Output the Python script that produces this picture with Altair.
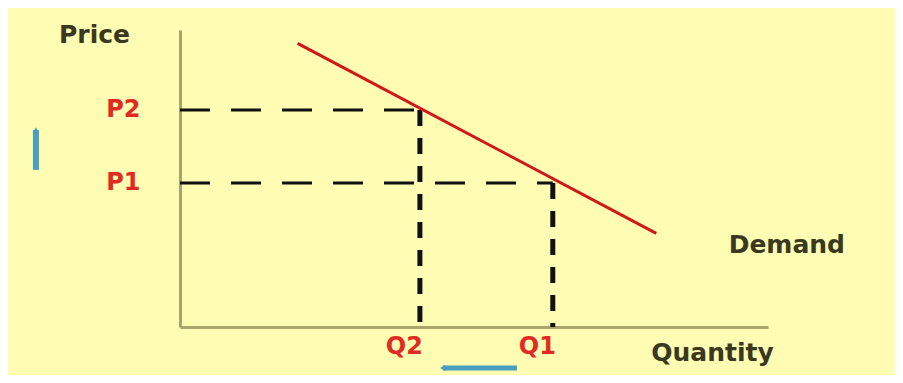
import altair as alt
import pandas as pd

# ---- data (conceptual demand diagram, units) ----
demand_q = [2.0, 8.1]
demand_p = [9.55, 3.15]

q_names = ["Q2", "Q1"]
q_values = [4.08, 6.34]
p_names = ["P2", "P1"]
p_values = [7.31, 4.85]

demand_label = ["Demand"]
demand_label_q = [10.32]
demand_label_p = [2.76]

# direction arrows (price up, quantity down)
up_arrow_q = [-2.45]
up_arrow_p = [5.29, 6.63]
left_arrow_q = [5.73, 4.47]
left_arrow_p = [-1.38]

# ---- styling ----
BG = "#FFFCB4"
AXIS = "#A8A46C"
TXT = "#3A3920"
RED_LINE = "#D01818"
RED_TXT = "#E02A22"
BLUE = "#4A9FC0"
FONT = "DejaVu Sans"

xs = alt.Scale(domain=[0, 10], nice=False, zero=False)
ys = alt.Scale(domain=[0, 10], nice=False, zero=False)


def expr_for(names, values):
    parts = " : ".join(f"datum.value == {v} ? '{n}'" for n, v in zip(names, values))
    return parts + " : ''"


x_axis = alt.Axis(
    values=q_values, labelExpr=expr_for(q_names, q_values),
    grid=False, ticks=False, domainColor=AXIS, domainWidth=3,
    labelColor=RED_TXT, labelFont=FONT, labelFontWeight="bold", labelFontSize=24,
    labelPadding=7, labelOffset=-16, labelBaseline="top",
    title="Quantity", titleFont=FONT, titleFontSize=25, titleFontWeight="bold",
    titleColor=TXT, titleX=532, titleY=25, titleAlign="center", titleBaseline="middle",
)
y_axis = alt.Axis(
    values=p_values, labelExpr=expr_for(p_names, p_values),
    grid=False, ticks=False, domainColor=AXIS, domainWidth=3,
    labelColor=RED_TXT, labelFont=FONT, labelFontWeight="bold", labelFontSize=24,
    labelPadding=40, labelBaseline="middle",
    title="Price", titleFont=FONT, titleFontSize=25, titleFontWeight="bold",
    titleColor=TXT, titleAngle=0, titleX=-86, titleY=4, titleAlign="center",
    titleBaseline="middle",
)

demand_df = pd.DataFrame({"q": demand_q, "p": demand_p})
levels_df = pd.DataFrame({"q": q_values, "p": p_values, "q0": [0, 0], "p0": [0, 0]})
label_df = pd.DataFrame({"q": demand_label_q, "p": demand_label_p, "t": demand_label})
up_df = pd.DataFrame({"q": up_arrow_q, "p": [up_arrow_p[0]], "p2": [up_arrow_p[1]]})
left_df = pd.DataFrame({"q": [left_arrow_q[0]], "q2": [left_arrow_q[1]], "p": left_arrow_p})

X = lambda f: alt.X(f"{f}:Q", scale=xs, axis=x_axis)
Y = lambda f: alt.Y(f"{f}:Q", scale=ys, axis=y_axis)

demand = alt.Chart(demand_df).mark_line(color=RED_LINE, strokeWidth=3).encode(
    x=X("q"), y=Y("p")
)

h_dash = alt.Chart(levels_df).mark_rule(
    color="#111111", strokeWidth=3, strokeDash=[30, 21]
).encode(x=X("q0"), x2="q", y=Y("p"))

v_dash = alt.Chart(levels_df).mark_rule(
    color="#111111", strokeWidth=5, strokeDash=[16, 12]
).encode(x=X("q"), y=Y("p"), y2="p0")

demand_text = alt.Chart(label_df).mark_text(
    font=FONT, fontSize=25, fontWeight="bold", color=TXT, align="center", baseline="middle"
).encode(x=X("q"), y=Y("p"), text="t:N")

up_rule = alt.Chart(up_df).mark_rule(color=BLUE, strokeWidth=6).encode(
    x=X("q"), y=Y("p"), y2="p2"
)
up_head = alt.Chart(up_df).mark_point(
    shape="triangle-up", filled=True, color=BLUE, size=45, opacity=1
).encode(x=X("q"), y=Y("p2"))

left_rule = alt.Chart(left_df).mark_rule(color=BLUE, strokeWidth=5).encode(
    x=X("q"), x2="q2", y=Y("p")
)
left_head = alt.Chart(left_df).mark_point(
    shape="triangle-left", filled=True, color=BLUE, size=40, opacity=1
).encode(x=X("q2"), y=Y("p"))

chart = (
    alt.layer(h_dash, v_dash, demand, demand_text, up_rule, up_head, left_rule, left_head)
    .properties(
        width=588, height=297,
        background=BG,
        padding={"left": 172, "top": 22, "right": 127, "bottom": 48},
        autosize=alt.AutoSizeParams(type="none"),
    )
    .configure_view(strokeWidth=0)
)

chart.save("out.html", embed_options={"renderer": "svg", "actions": False})
